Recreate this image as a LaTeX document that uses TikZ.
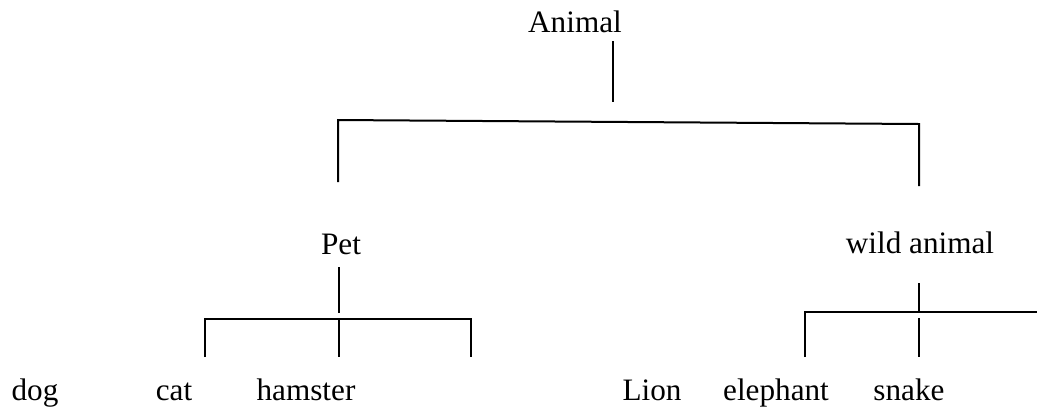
\documentclass[tikz,border=0pt]{standalone}
\usepackage{fontspec}
\setmainfont{Liberation Serif}
\begin{document}
\begin{tikzpicture}[x=0.5pt,y=-0.5pt,
  word/.style={inner sep=0pt, anchor=base, font=\fontsize{15.6}{18}\selectfont},
  branch/.style={line width=1pt}]
\useasboundingbox (0,0) rectangle (1037,408);
% labels
\node[word] (animal) at (575,32) {Animal};
\node[word] (pet) at (341,254) {Pet};
\node[word] (wild) at (920,253) {wild animal};
\node[word] (dog) at (35,400) {dog};
\node[word] (cat) at (174,400) {cat};
\node[word] (hamster) at (306,400) {hamster};
\node[word] (lion) at (652,400) {Lion};
\node[word] (elephant) at (776,400) {elephant};
\node[word] (snake) at (909,400) {snake};
% joints
\coordinate (animaltop) at (613,41);
\coordinate (animalbot) at (613,102);
\coordinate (petleg) at (338,182);
\coordinate (petbar) at (338,120);
\coordinate (wildbar) at (919,124);
\coordinate (wildleg) at (919,186);
\coordinate (pettop) at (339,267);
\coordinate (petbot) at (339,313);
\coordinate (petmid) at (339,319);
\coordinate (petmidend) at (339,357);
\coordinate (petl) at (205,357);
\coordinate (petlbar) at (205,319);
\coordinate (petrbar) at (471,319);
\coordinate (petr) at (471,357);
\coordinate (wildtop) at (919,283);
\coordinate (wildbot) at (919,312);
\coordinate (wildl) at (805,357);
\coordinate (wildlbar) at (805,312);
\coordinate (wildend) at (1037,312);
\coordinate (wildmid) at (919,318);
\coordinate (wildmidend) at (919,357);
% tree lines
\draw[branch] (animaltop) -- (animalbot);
\draw[branch] (petleg) -- (petbar) -- (wildbar) -- (wildleg);
\draw[branch] (pettop) -- (petbot);
\draw[branch] (petl) -- (petlbar) -- (petrbar) -- (petr);
\draw[branch] (petmid) -- (petmidend);
\draw[branch] (wildtop) -- (wildbot);
\draw[branch] (wildl) -- (wildlbar) -- (wildend);
\draw[branch] (wildmid) -- (wildmidend);
\end{tikzpicture}
\end{document}
